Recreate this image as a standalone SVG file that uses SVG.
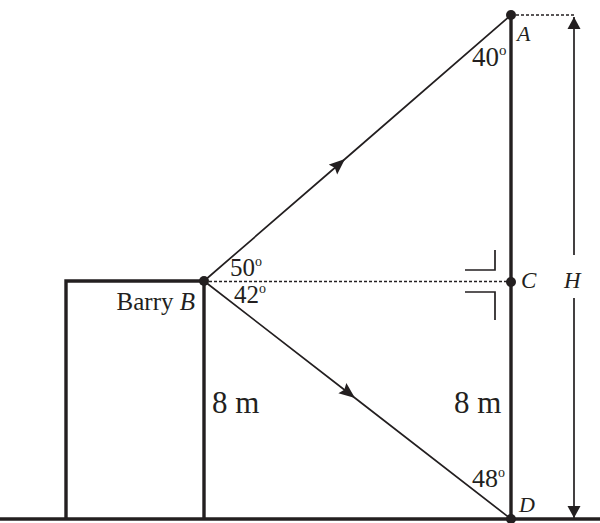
<svg xmlns="http://www.w3.org/2000/svg" width="600" height="523" viewBox="0 0 600 523">
<defs>
<style>
.thick{stroke:#231f20;stroke-width:3.4;fill:none}
.thin{stroke:#231f20;stroke-width:1.7;fill:none}
.dash{stroke:#231f20;stroke-width:1.3;stroke-dasharray:3 2;fill:none}
.t{font-family:"Liberation Serif","Times New Roman",serif;fill:#231f20}
.it{font-style:italic}
.dot{fill:#231f20}
</style>
<marker id="mid" markerWidth="18" markerHeight="14" refX="16" refY="7" orient="auto" markerUnits="userSpaceOnUse">
<path d="M0,0.5 L16,7 L0,13.5 L2.5,7 Z" fill="#231f20"/>
</marker>
<marker id="ah" markerWidth="14" markerHeight="14" refX="12" refY="7" orient="auto" markerUnits="userSpaceOnUse">
<path d="M0,0.5 L12,7 L0,13.5 Z" fill="#231f20"/>
</marker>
</defs>
<rect width="600" height="523" fill="#ffffff"/>
<g id="ground"><line class="thick" x1="0" y1="519" x2="600" y2="519"/></g>
<g id="building"><path class="thick" d="M66,519 V281 H204 V519"/></g>
<g id="pole"><line class="thick" x1="511" y1="15" x2="511" y2="519"/></g>
<g id="connectors">
<path class="thin" d="M204,281 L345,159 L511,15" marker-mid="url(#mid)"/>
<path class="thin" d="M204,281 L355,398 L511,519" marker-mid="url(#mid)"/>
<line class="dash" x1="204" y1="281.5" x2="511" y2="281.5"/>
<line class="dash" x1="511" y1="15" x2="574" y2="15"/>
<line class="thin" x1="574" y1="255" x2="574" y2="17" marker-end="url(#ah)"/>
<line class="thin" x1="574" y1="298" x2="574" y2="518" marker-end="url(#ah)"/>
<polyline class="thin" points="465,270 495,270 495,250"/>
<polyline class="thin" points="465,292 495,292 495,320"/>
</g>
<g id="A"><circle class="dot" cx="511" cy="15" r="5"/><text class="t it" x="517" y="41" font-size="22">A</text></g>
<g id="B"><circle class="dot" cx="204" cy="281" r="5"/><text class="t" x="195" y="310" font-size="25" text-anchor="end">Barry <tspan class="it">B</tspan></text></g>
<g id="C"><circle class="dot" cx="511" cy="282" r="5"/><text class="t it" x="521" y="288" font-size="23">C</text></g>
<g id="D"><circle class="dot" cx="511" cy="519" r="5"/><text class="t it" x="519" y="512" font-size="22">D</text></g>
<g id="H"><text class="t it" x="564" y="288" font-size="23">H</text></g>
<g id="labels">
<text class="t" x="472" y="66" font-size="27">40<tspan font-size="15" dy="-11">o</tspan></text>
<text class="t" x="230" y="276" font-size="25">50<tspan font-size="14" dy="-10">o</tspan></text>
<text class="t" x="234" y="303" font-size="25">42<tspan font-size="14" dy="-10">o</tspan></text>
<text class="t" x="472" y="487" font-size="26">48<tspan font-size="14" dy="-10">o</tspan></text>
<text class="t" x="212" y="413" font-size="31">8 m</text>
<text class="t" x="454" y="413" font-size="31">8 m</text>
</g>
</svg>
